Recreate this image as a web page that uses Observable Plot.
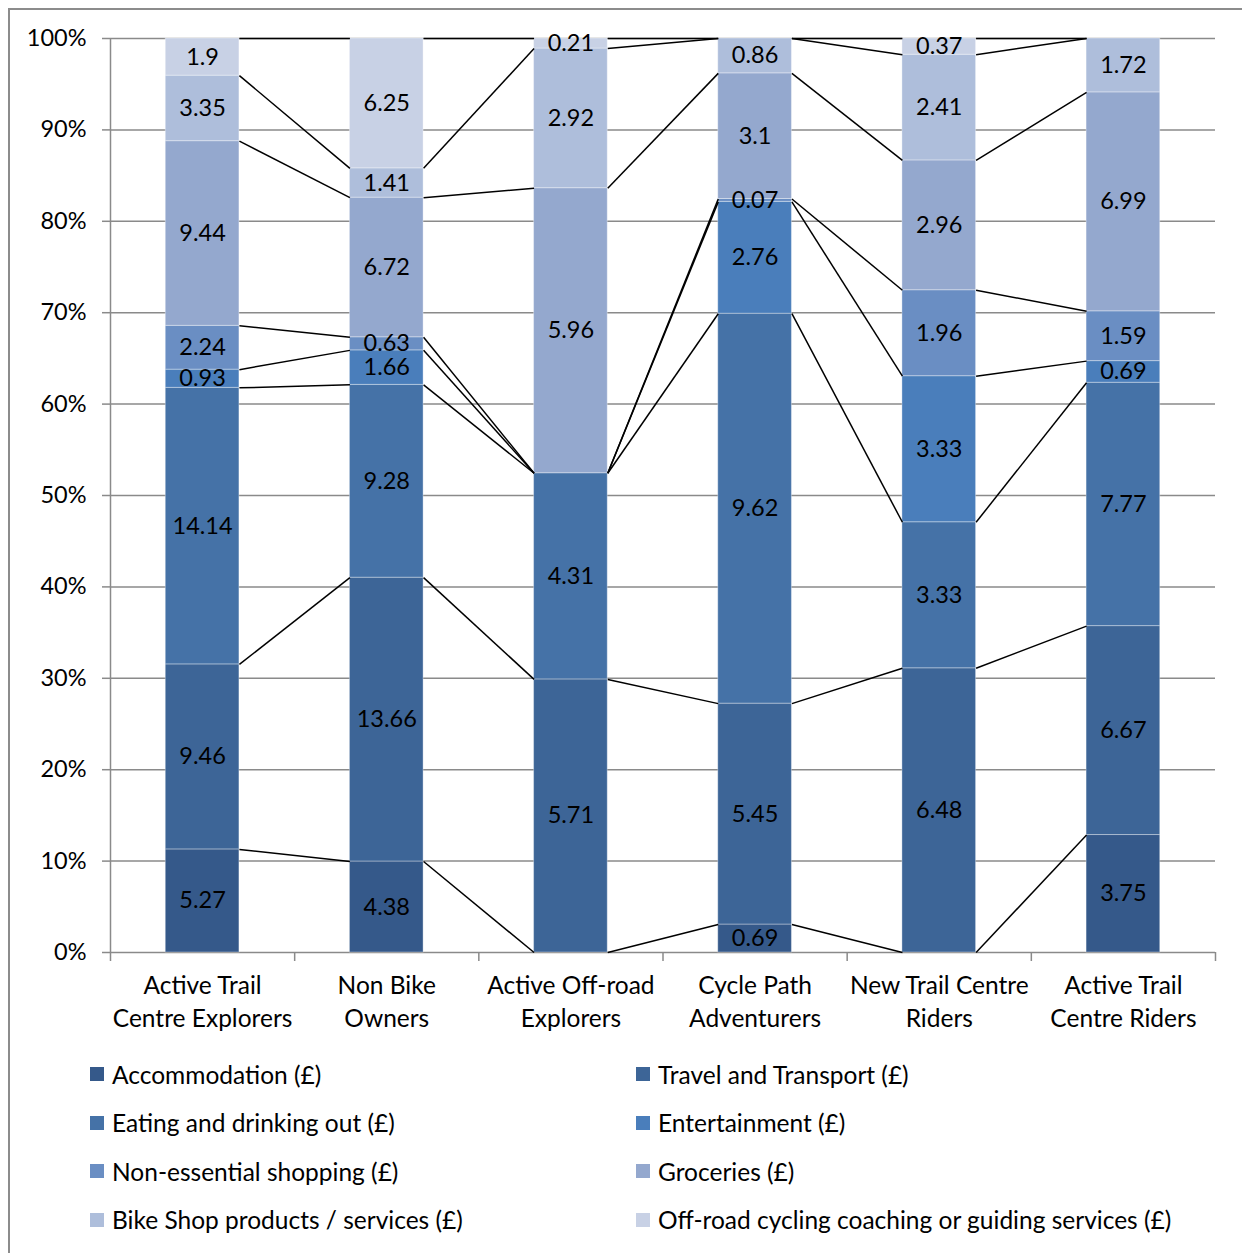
<!DOCTYPE html>
<html>
<head>
<meta charset="utf-8">
<script src="https://cdn.jsdelivr.net/npm/d3@7"></script>
<script src="https://cdn.jsdelivr.net/npm/@observablehq/plot@0.6"></script>
<style>
  html, body { margin: 0; padding: 0; background: #fff; overflow: hidden; }
  body { width: 1242px; height: 1253px; position: relative; font-family: Lato, sans-serif; }
  #frame { position: absolute; left: 8px; top: 8px; width: 1300px; height: 1300px;
           border-left: 2px solid #8c8c8c; border-top: 2px solid #8c8c8c; box-sizing: border-box; }
  #chart { position: absolute; left: 0; top: 0; }
  #legend { position: absolute; left: 90px; top: 1050px; display: grid;
            grid-template-columns: 546px auto; grid-auto-rows: 48.5px;
            font-size: 24.5px; color: #000; }
  .item { display: flex; align-items: center; white-space: nowrap; }
  .sw { width: 14px; height: 14px; margin-right: 8px; flex: none; }
</style>
</head>
<body>
<div id="frame"></div>
<div id="chart"></div>
<div id="legend"></div>
<script>
// Cycling segments (two-line tick labels)
const categories = [
  "Active Trail\nCentre Explorers",
  "Non Bike\nOwners",
  "Active Off-road\nExplorers",
  "Cycle Path\nAdventurers",
  "New Trail Centre\nRiders",
  "Active Trail\nCentre Riders"
];

// Average spend per segment (£), one array per spending category
const accommodation = [5.27, 4.38, 0, 0.69, 0, 3.75];
const travel        = [9.46, 13.66, 5.71, 5.45, 6.48, 6.67];
const eating        = [14.14, 9.28, 4.31, 9.62, 3.33, 7.77];
const entertainment = [0.93, 1.66, 0, 2.76, 3.33, 0.69];
const nonEssential  = [2.24, 0.63, 0, 0.07, 1.96, 1.59];
const groceries     = [9.44, 6.72, 5.96, 3.1, 2.96, 6.99];
const bikeShop      = [3.35, 1.41, 2.92, 0.86, 2.41, 1.72];
const coaching      = [1.9, 6.25, 0.21, 0, 0.37, 0];

const seriesNames = [
  "Accommodation (£)",
  "Travel and Transport (£)",
  "Eating and drinking out (£)",
  "Entertainment (£)",
  "Non-essential shopping (£)",
  "Groceries (£)",
  "Bike Shop products / services (£)",
  "Off-road cycling coaching or guiding services (£)"
];
const seriesValues = [accommodation, travel, eating, entertainment, nonEssential, groceries, bikeShop, coaching];
const seriesColors = ["#35598a", "#3d6597", "#4572a7", "#4a7ebb", "#6a8ec3", "#94a8ce", "#aebedb", "#c8d1e5"];

const yTicks = d3.range(0, 11).map(d => d / 10);

// Bars take 40% of each category slot (gap width 150%)
const barHalf = 0.2;

// Normalised stacks: each column sums to 100%
const segments = [];
const tops = seriesNames.map(() => []);
categories.forEach((cat, i) => {
  const total = d3.sum(seriesValues, s => s[i]);
  let acc = 0;
  seriesValues.forEach((s, k) => {
    const v = s[i];
    const y1 = acc / total;
    acc += v;
    const y2 = acc / total;
    tops[k][i] = y2;
    segments.push({series: seriesNames[k], value: v, i, y1, y2});
  });
});

// Series lines joining the top of each series between neighbouring columns
const seriesLinks = [];
seriesNames.forEach((name, k) => {
  for (let i = 0; i + 1 < categories.length; ++i) {
    seriesLinks.push({series: name, x1: i + 0.5 + barHalf, x2: i + 1.5 - barHalf, y1: tops[k][i], y2: tops[k][i + 1]});
  }
});

const labels = segments.filter(d => d.value > 0);

const plot = Plot.plot({
  width: 1242,
  height: 1050,
  marginLeft: 110,
  marginRight: 27,
  marginTop: 38,
  marginBottom: 98,
  style: {fontFamily: "Lato, sans-serif", fontSize: "24px", color: "#000", background: "transparent", overflow: "visible"},
  x: {domain: [0, categories.length], axis: null},
  y: {domain: [0, 1], axis: null},
  color: {domain: seriesNames, range: seriesColors},
  marks: [
    Plot.gridY(yTicks, {stroke: "#8a8a8a", strokeOpacity: 1, strokeWidth: 1.5}),
    Plot.ruleX([0], {stroke: "#8a8a8a", strokeWidth: 1.5}),
    Plot.axisY(yTicks, {tickSize: 8, tickPadding: 16, tickFormat: d3.format(".0%"), stroke: "#8a8a8a", strokeWidth: 1.5, fontSize: 23.5}),
    Plot.axisX(d3.range(categories.length + 1), {tickSize: 9, tickFormat: () => "", stroke: "#8a8a8a", strokeWidth: 1.5}),
    Plot.axisX(d3.range(categories.length).map(i => i + 0.5), {
      tickSize: 0, tickPadding: 19, lineHeight: 1.32, fontSize: 24.5,
      tickFormat: d => categories[Math.floor(d)]
    }),
    Plot.rect(segments, {
      x1: d => d.i + 0.5 - barHalf, x2: d => d.i + 0.5 + barHalf,
      y1: "y1", y2: "y2", fill: "series",
      stroke: "white", strokeOpacity: 0.35, strokeWidth: 1
    }),
    Plot.link(seriesLinks, {x1: "x1", y1: "y1", x2: "x2", y2: "y2", stroke: "black", strokeWidth: 1.5}),
    Plot.text(labels, {
      x: d => d.i + 0.5, y: d => (d.y1 + d.y2) / 2,
      text: d => String(d.value), fontSize: 23.5, fill: "black"
    })
  ]
});
document.getElementById("chart").append(plot);

// Legend: two columns, row-major
const legend = d3.select("#legend");
seriesNames.forEach((name, k) => {
  const item = legend.append("div").attr("class", "item");
  item.append("span").attr("class", "sw").style("background", seriesColors[k]);
  item.append("span").text(name);
});
</script>
</body>
</html>
